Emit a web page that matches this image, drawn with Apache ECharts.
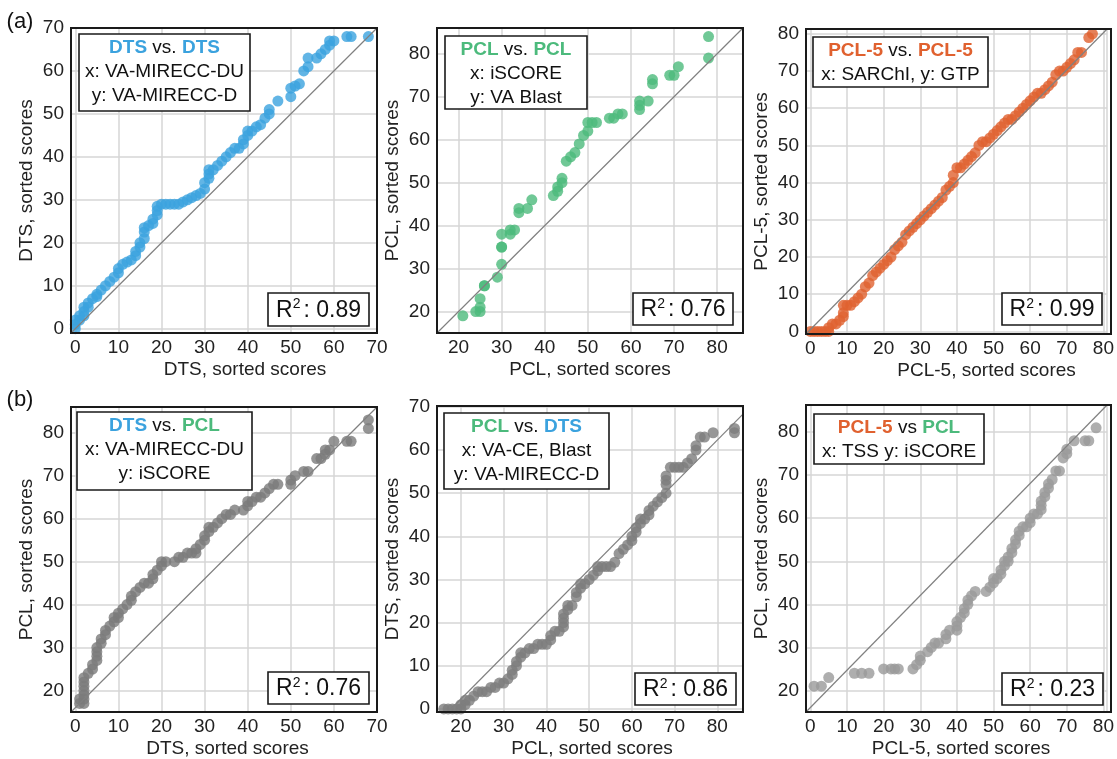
<!DOCTYPE html>
<html>
<head>
<meta charset="utf-8">
<title>Sorted score QQ plots</title>
<script src="https://cdn.jsdelivr.net/npm/echarts@6.0.0/dist/echarts.min.js"></script>
<style>
  html, body { margin: 0; padding: 0; background: #fff; }
  #chart { width: 1117px; height: 759px; }
</style>
</head>
<body>
<div id="chart"></div>
<script>
const FONT = '"Liberation Sans", Arial, Helvetica, sans-serif';
const BLUE = '#3ba2de', GREEN = '#4cba7c', ORANGE = '#e0612f';

// sorted scores, [x, y]
const dtsVsDts = [[0,0],[0,1],[0,2],[1,2],[1,3],[2,3],[2,4],[2,5],[3,5],[3,6],[4,7],[5,7.5],[5,8],[6,9],[7,10],[8,11],[9,12],[10,13],[10,14],[11,15],[12,15.5],[13,16],[14,17],[14,18],[15,19],[15,20],[16,21],[16,22.5],[16,23.5],[17,24],[18,24.5],[18,25.5],[19,26.5],[19,27.5],[19,28.5],[20,29],[21,29],[22,29],[23,29],[24,29],[25,29.5],[26,30],[27,30.5],[28,31],[29,31.5],[30,32.5],[30,34],[31,35],[31,36],[31,37],[32,37],[33,38],[34,39],[35,40],[36,41],[37,42],[38,42],[39,43],[39,44],[40,45],[40,46],[41,46],[42,47],[43,47.5],[44,49],[45,50],[45,51],[47,53],[50,54],[50,56],[51,56.5],[52,57],[53,60],[54,61],[54,63],[56,63],[57,64],[58,65],[59,66],[59,67],[60,67],[63,68],[64,68],[68,68]];
const pclVsPcl = [[21,19],[24,20],[25,20],[25,21],[25,23],[26,26],[26,26],[29,28],[30,31],[30,35],[30,35],[30,38],[32,38],[32,39],[33,39],[34,43],[34,44],[36,44],[37,46],[42,47],[43,48],[43,49],[44,50],[44,51],[45,55],[46,56],[47,57],[48,59],[49,61],[50,62],[50,64],[51,64],[52,64],[55,65],[56,65],[57,66],[58,66],[62,67],[62,68],[62,69],[64,69],[65,73],[65,74],[69,75],[70,75],[71,77],[78,79],[78,84]];
const pcl5VsPcl5 = [[0,0],[1,0],[2,0],[3,0],[4,0],[5,0],[5,1],[6,2],[7,2],[8,3],[9,4],[9,5],[9,7],[10,7],[11,7],[12,8],[13,9],[14,10],[15,12],[16,13],[17,15],[18,16],[19,17],[20,18],[21,19],[22,20],[23,22],[24,23],[25,24],[26,26],[27,27],[28,28],[29,29],[30,30],[31,31],[32,32],[33,33],[34,34],[35,35],[36,36],[37,38],[38,39],[39,40],[39,42],[40,44],[41,44],[42,45],[43,46],[44,47],[45,48],[46,50],[47,51],[48,51],[49,52],[50,53],[51,54],[52,55],[53,56],[54,57],[55,57],[56,58],[57,59],[58,60],[59,61],[60,62],[61,63],[62,64],[63,64],[64,65],[65,66],[66,67],[67,69],[68,70],[69,70],[70,71],[71,72],[72,73],[73,75],[74,75],[76,79],[77,80]];
const dtsVsPcl = [[1,17],[1,18],[2,17],[2,18],[2,19],[2,20],[2,21],[2,22],[2,23],[3,24],[4,25],[4,26],[5,27],[5,28],[5,29],[5,30],[6,31],[6,32],[7,33],[7,34],[8,35],[9,36],[9,37],[10,37],[10,38],[11,39],[12,40],[13,41],[13,42],[14,43],[15,44],[16,45],[17,45],[18,46],[18,47],[19,48],[20,49],[20,50],[21,50],[23,50],[24,51],[25,51],[26,52],[27,52],[28,52],[28,53],[29,54],[30,55],[30,56],[31,57],[31,58],[32,58],[33,59],[34,60],[35,61],[36,61],[37,62],[39,62],[40,63],[40,64],[41,64],[42,65],[43,65],[44,66],[45,67],[46,68],[47,68],[50,68],[50,69],[51,70],[53,71],[54,71],[56,74],[57,74],[58,75],[58,76],[59,76],[60,78],[63,78],[64,78],[68,81],[68,83]];
const pclVsDts = [[16,0],[17,0],[18,0],[19,0],[20,0],[20,1],[21,1],[21,2],[22,2],[23,3],[24,4],[25,4],[26,4],[27,5],[28,5],[29,6],[30,6],[31,7],[32,8],[32,9],[33,10],[33,11],[34,12],[34,13],[35,13],[36,14],[37,14],[38,15],[39,15],[40,15],[41,16],[41,17],[42,18],[43,18],[44,19],[44,20],[44,21],[44,22],[45,23],[45,24],[46,24],[47,26],[47,27],[48,28],[48,29],[49,29],[50,30],[51,31],[52,32],[52,33],[53,33],[54,33],[55,33],[56,34],[57,36],[58,37],[59,38],[60,39],[60,40],[61,41],[61,42],[62,43],[62,44],[63,44],[64,45],[64,46],[65,47],[66,48],[67,49],[68,50],[68,52],[68,53],[68,54],[69,56],[70,56],[71,56],[72,56],[73,57],[74,58],[75,60],[75,61],[76,63],[77,63],[79,64],[84,64],[84,65]];
const pcl5VsPcl = [[1,21],[3,21],[5,23],[12,24],[14,24],[16,24],[20,25],[22,25],[23,25],[24,25],[28,25],[29,26],[30,27],[30,28],[32,29],[33,30],[34,31],[35,31],[37,32],[37,33],[38,34],[40,34],[40,35],[40,36],[41,37],[42,38],[42,39],[43,40],[43,41],[44,42],[45,43],[48,43],[49,44],[50,45],[50,46],[51,46],[52,47],[52,48],[53,49],[53,50],[54,50],[54,51],[55,52],[55,53],[56,54],[56,55],[57,56],[57,57],[58,58],[59,58],[60,59],[60,60],[61,61],[62,61],[63,62],[63,63],[63,64],[64,65],[64,66],[65,67],[65,68],[66,69],[67,71],[68,71],[69,74],[70,75],[70,76],[72,78],[75,78],[76,78],[78,81]];

// axis extents and reference lines
const xRanges = [[-1,70],[15,86],[-1.2,81],[-1,70],[14.4,86],[-1.2,81]];
const yRanges = [[-1,70],[15,86],[-0.7,81.3],[15,86],[-0.7,70.2],[15,86.3]];
const refLines = [
  [[-1,-1],[70,70]],
  [[15,15],[86,86]],
  [[-1.2,-0.7],[81,81.3]],
  [[-1,15],[70,86]],
  [[17,-0.7],[86,68.3]],
  [[-1.2,15],[81,86.3]]
];

const xNames = ['DTS, sorted scores','PCL, sorted scores','PCL-5, sorted scores','DTS, sorted scores','PCL, sorted scores','PCL-5, sorted scores'];
const yNames = ['DTS, sorted scores','PCL, sorted scores','PCL-5, sorted scores','PCL, sorted scores','DTS, sorted scores','PCL, sorted scores'];
const r2Values = ['0.89','0.76','0.99','0.76','0.86','0.23'];
const boxTitles = ['{dts|DTS} vs. {dts|DTS}','{pcl|PCL} vs. {pcl|PCL}','{p5|PCL-5} vs. {p5|PCL-5}','{dts|DTS} vs. {pcl|PCL}','{pcl|PCL} vs. {dts|DTS}','{p5|PCL-5} vs {pcl|PCL}'];
const boxLines = [
  ['x: VA-MIRECC-DU','y: VA-MIRECC-D'],
  ['x: iSCORE','y: VA Blast'],
  ['x: SARChI, y: GTP'],
  ['x: VA-MIRECC-DU','y: iSCORE'],
  ['x: VA-CE, Blast','y: VA-MIRECC-D'],
  ['x: TSS y: iSCORE']
];
const allData = [dtsVsDts, pclVsPcl, pcl5VsPcl5, dtsVsPcl, pclVsDts, pcl5VsPcl];
const dotColors = [BLUE, GREEN, ORANGE, '#7b7b7b', '#7d7d7d', '#9a9a9a'];

// layout (px)
const grids = [
  {left:71, top:28, width:306, height:305},
  {left:437, top:28, width:306, height:305},
  {left:806, top:29, width:305, height:305},
  {left:71, top:407, width:306, height:305},
  {left:437, top:406, width:306, height:306},
  {left:806, top:405, width:305, height:307}
];
const titleBoxes = [[79,34,171,77],[445,36,142,73],[813,37,175,50],[77,412,175,78],[444,413,165,76],[814,414,170,50]];
const r2Boxes = [[268,293,101,33],[633,293,100,32],[1002,293,100,32],[268,672,101,32],[635,673,101,32],[1002,673,101,32]];
const xNameShift = [42,0,60,7,4,9];

const txt = {fontSize:19, color:'#222', fontFamily:FONT};

const xAxis = grids.map((g, i) => ({
  type:'value', gridIndex:i,
  min:xRanges[i][0], max:xRanges[i][1],
  splitNumber:7, minInterval:10, maxInterval:10,
  axisLine:{show:false}, axisTick:{show:false},
  splitLine:{show:true, lineStyle:{color:'#d6d6d6', width:1.5}},
  axisLabel:Object.assign({margin:5, showMinLabel:xRanges[i][0] % 10 === 0, showMaxLabel:xRanges[i][1] % 10 === 0}, txt),
  name:xNames[i], nameLocation:'middle', nameGap:27,
  nameTextStyle:Object.assign({padding:[0,0,0,xNameShift[i]]}, txt)
}));
const yAxis = grids.map((g, i) => ({
  type:'value', gridIndex:i,
  min:yRanges[i][0], max:yRanges[i][1],
  splitNumber:7, minInterval:10, maxInterval:10,
  axisLine:{show:false}, axisTick:{show:false},
  splitLine:{show:true, lineStyle:{color:'#d6d6d6', width:1.5}},
  axisLabel:Object.assign({margin:7, showMinLabel:yRanges[i][0] % 10 === 0, showMaxLabel:yRanges[i][1] % 10 === 0}, txt),
  name:yNames[i], nameLocation:'middle', nameGap:35,
  nameTextStyle:txt
}));

const series = [];
allData.forEach((d, i) => {
  series.push({
    type:'scatter', xAxisIndex:i, yAxisIndex:i, data:d,
    symbolSize:11, itemStyle:{color:dotColors[i], opacity:0.8},
    silent:true
  });
});
refLines.forEach((d, i) => {
  series.push({
    type:'line', xAxisIndex:i, yAxisIndex:i, data:d,
    showSymbol:false, silent:true, z:3,
    lineStyle:{color:'#808080', width:1.2}
  });
});

const rich = {
  dts:{fill:BLUE, fontWeight:'bold', fontSize:19, fontFamily:FONT, lineHeight:24},
  pcl:{fill:GREEN, fontWeight:'bold', fontSize:19, fontFamily:FONT, lineHeight:24},
  p5:{fill:ORANGE, fontWeight:'bold', fontSize:19, fontFamily:FONT, lineHeight:24}
};

const graphic = [];
grids.forEach((g, i) => {
  // frame
  graphic.push({type:'rect', z:50, silent:true,
    shape:{x:g.left, y:g.top, width:g.width, height:g.height},
    style:{fill:null, stroke:'#1a1a1a', lineWidth:2}});
  // title box
  const b = titleBoxes[i];
  graphic.push({type:'rect', z:60, silent:true,
    shape:{x:b[0], y:b[1], width:b[2], height:b[3]},
    style:{fill:'#fff', stroke:'#1a1a1a', lineWidth:1.6}});
  graphic.push({type:'text', z:61, silent:true, x:b[0] + b[2] / 2, y:b[1] + 1.5,
    style:{text:[boxTitles[i]].concat(boxLines[i]).join('\n'), rich:rich,
      fill:'#111', fontSize:19, fontFamily:FONT, lineHeight:24, align:'center', verticalAlign:'top'}});
  // R^2 box
  const r = r2Boxes[i];
  graphic.push({type:'rect', z:60, silent:true,
    shape:{x:r[0], y:r[1], width:r[2], height:r[3]},
    style:{fill:'#fff', stroke:'#1a1a1a', lineWidth:1.6}});
  graphic.push({type:'text', z:61, silent:true, x:r[0] + r[2] / 2, y:r[1] + r[3] / 2 + 1,
    style:{text:'{r|R}{s|2}{r|: ' + r2Values[i] + '}', align:'center', verticalAlign:'middle',
      rich:{
        r:{fill:'#111', fontSize:23, fontFamily:FONT, lineHeight:26},
        s:{fill:'#111', fontSize:14, fontFamily:FONT, lineHeight:26, verticalAlign:'top', padding:[0,3,0,0]}
      }}});
});
graphic.push({type:'text', x:20, y:22, silent:true,
  style:{text:'(a)', fill:'#111', fontSize:22, fontFamily:FONT, align:'center', verticalAlign:'middle'}});
graphic.push({type:'text', x:20, y:400, silent:true,
  style:{text:'(b)', fill:'#111', fontSize:22, fontFamily:FONT, align:'center', verticalAlign:'middle'}});

const chart = echarts.init(document.getElementById('chart'));
chart.setOption({
  backgroundColor:'#fff',
  animation:false,
  grid:grids,
  xAxis:xAxis,
  yAxis:yAxis,
  series:series,
  graphic:graphic
});
</script>
</body>
</html>
